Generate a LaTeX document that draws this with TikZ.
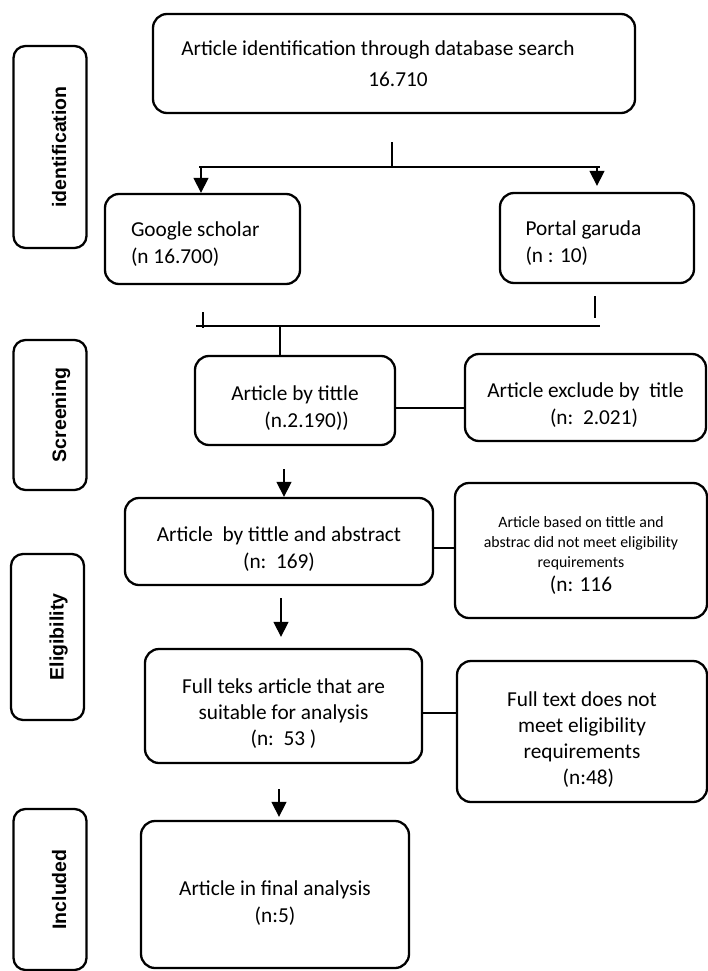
\documentclass[tikz,border=0pt]{standalone}
\usepackage{fontspec}
\setmainfont{Carlito}
\newfontfamily\stagefont{Liberation Sans}
\usetikzlibrary{arrows.meta}
% invisible strut that moves a box's text down a little
\newcommand\toppad[1]{\rule{0pt}{#1}}

\begin{document}
\begin{tikzpicture}[x=1pt,y=-1pt,
    box/.style={draw,rounded corners=14pt,line width=2.3pt,align=center,inner sep=0pt,
      font=\fontsize{21.3}{27}\selectfont},
    srcbox/.style={box,align=flush left,text width=143pt},
    stagebox/.style={draw,rounded corners=12pt,line width=2.3pt,rotate=90,inner sep=0pt,
      minimum height=73pt,text height=32pt,text depth=0pt,
      font=\stagefont\bfseries\fontsize{19.5}{22}\selectfont},
    link/.style={line width=1.2pt},
    arr/.style={line width=1.3pt,-{Triangle[length=15pt,width=15pt]}}]
  \useasboundingbox (0,0) rectangle (708,971);

  % stages on the left
  \node[stagebox,minimum width=202pt] (ident) at (50,147) {identification};
  \node[stagebox,minimum width=150pt] (screen) at (50,415) {Screening};
  \node[stagebox,minimum width=166pt] (elig) at (47.5,637) {Eligibility};
  \node[stagebox,minimum width=161pt] (incl) at (50,889.5) {Included};

  % identification
  \node[box,minimum width=482pt,minimum height=99pt,font=\fontsize{21.3}{31}\selectfont]
    (db) at (394,63.5) {Article identification through database search\hspace*{32pt}\\\hspace*{8pt}16.710};
  \node[srcbox,minimum width=195pt,minimum height=90pt] (scholar) at (202.5,239)
    {\toppad{25pt}Google scholar\\(n 16.700)};
  \node[srcbox,minimum width=194pt,minimum height=90pt] (garuda) at (597,238)
    {\toppad{25pt}Portal garuda\\(n : 10)};

  % screening
  \node[box,minimum width=200pt,minimum height=89pt] (bytitle) at (295,400.5)
    {\toppad{30pt}Article by tittle\\\hspace*{1.1em}(n.2.190))};
  \node[box,minimum width=241pt,minimum height=87pt] (extitle) at (585.5,397.5)
    {\toppad{29pt}Article exclude by\ \ title\\\hspace*{0.8em}(n:\ \ 2.021)};

  % eligibility
  \node[box,minimum width=308pt,minimum height=87pt] (byabs) at (279,541.5)
    {\toppad{30pt}Article\ \ by tittle and abstract\\(n:\ \ 169)};
  \node[box,minimum width=252pt,minimum height=135pt,font=\fontsize{15.8}{20}\selectfont]
    (exabs) at (581,550.5)
    {\toppad{20pt}Article based on tittle and\\abstrac did not meet eligibility\\requirements\\[4pt]{\fontsize{21.3}{24}\selectfont(n: 116}};
  \node[box,minimum width=277pt,minimum height=114pt,font=\fontsize{21.3}{26}\selectfont]
    (fulltext) at (283.5,706) {\toppad{30pt}Full teks article that are\\suitable for analysis\\(n:\ \ 53 )};
  \node[box,minimum width=250pt,minimum height=141pt,font=\fontsize{21.3}{26}\selectfont]
    (exfull) at (582,731.5) {\toppad{30pt}Full text does not\\meet eligibility\\requirements\\\hspace*{0.6em}(n:48)};

  % included
  \node[box,minimum width=268pt,minimum height=147pt] (final) at (275,894.5)
    {\toppad{31pt}Article in final analysis\\(n:5)};

  % split to the two databases
  \coordinate (dbstub) at (392,142);
  \coordinate (split) at (392,167);
  \coordinate (splitL) at (199,167);
  \coordinate (splitR) at (599.5,167);
  \coordinate (toscholar) at (201,167);
  \coordinate (togaruda) at (597,167);
  \draw[link] (dbstub) -- (split);
  \draw[link] (splitL) -- (splitR);
  \draw[arr] (toscholar) -- (toscholar |- scholar.north);
  \draw[arr,shorten >=6pt] (togaruda) -- (togaruda |- garuda.north);

  % merge again
  \coordinate (scholarstub) at (203,312);
  \coordinate (scholarend) at (203,328);
  \coordinate (garudastub) at (595,296);
  \coordinate (garudaend) at (595,318);
  \coordinate (mergeL) at (196,326);
  \coordinate (mergeR) at (600,326);
  \coordinate (merge) at (280,326);
  \draw[link] (scholarstub) -- (scholarend);
  \draw[link] (garudastub) -- (garudaend);
  \draw[link] (mergeL) -- (mergeR);
  \draw[link] (merge) -- (merge |- bytitle.north);

  % excluded records
  \draw[link] ([yshift=-7.5pt]bytitle.east) -- ([yshift=-7.5pt]bytitle.east -| extitle.west);
  \draw[link] ([yshift=-6.5pt]byabs.east) -- ([yshift=-6.5pt]byabs.east -| exabs.west);
  \draw[link] ([yshift=-7pt]fulltext.east) -- ([yshift=-7pt]fulltext.east -| exfull.west);

  % main flow
  \coordinate (down1) at (284,469);
  \coordinate (down2) at (281,598);
  \coordinate (down3) at (279,789);
  \draw[arr] (down1) -- (down1 |- byabs.north);
  \draw[arr,shorten >=11pt] (down2) -- (down2 |- fulltext.north);
  \draw[arr,shorten >=3pt] (down3) -- (down3 |- final.north);
\end{tikzpicture}
\end{document}
